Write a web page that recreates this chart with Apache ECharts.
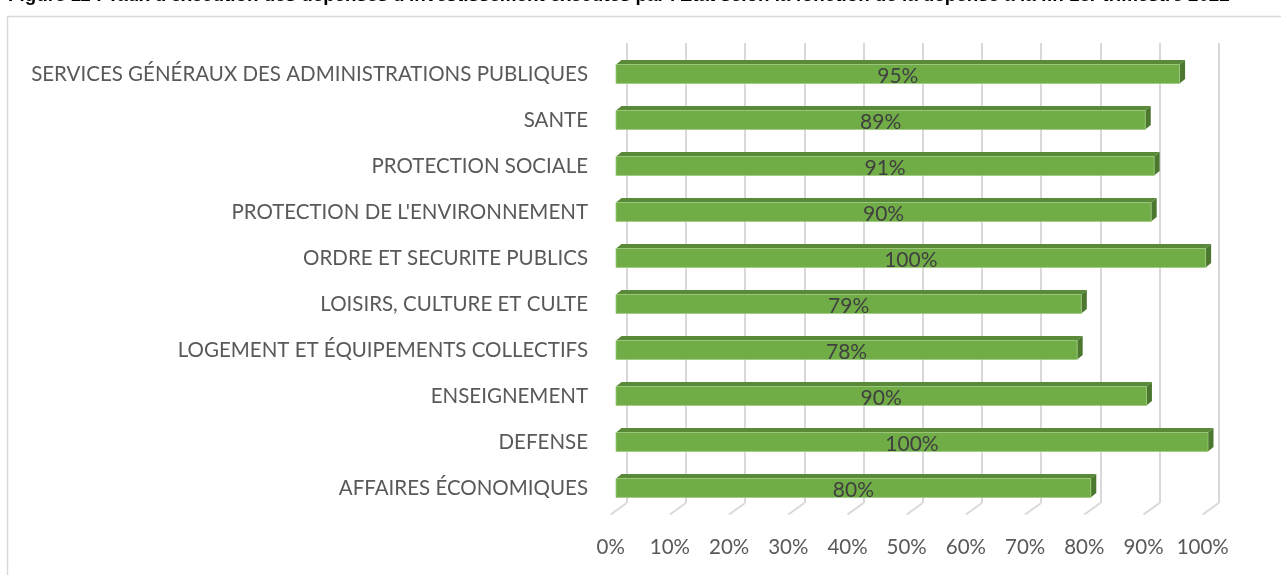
<!DOCTYPE html>
<html>
<head>
<meta charset="utf-8">
<script src="https://cdn.jsdelivr.net/npm/echarts@6/dist/echarts.min.js"></script>
<style>
	html, body { margin: 0; padding: 0; background: #fff; }
	#taux-execution { width: 1281px; height: 575px; }
</style>
</head>
<body>
<div id="taux-execution"></div>
<script>
	// categories from top to bottom
	const categories = [
		'SERVICES GÉNÉRAUX DES ADMINISTRATIONS PUBLIQUES',
		'SANTE',
		'PROTECTION SOCIALE',
		"PROTECTION DE L'ENVIRONNEMENT",
		'ORDRE ET SECURITE PUBLICS',
		'LOISIRS, CULTURE ET CULTE',
		'LOGEMENT ET ÉQUIPEMENTS COLLECTIFS',
		'ENSEIGNEMENT',
		'DEFENSE',
		'AFFAIRES ÉCONOMIQUES'
	];
	// taux d'execution (%)
	const taux = [95.2, 89.4, 90.9, 90.4, 99.6, 78.6, 77.9, 89.6, 100, 80.2];
	const ticks = [0, 10, 20, 30, 40, 50, 60, 70, 80, 90, 100];
	const titre = "Figure 11 : Taux d'exécution des dépenses d'investissement exécutés par l'Etat selon la fonction de la dépense à la fin 1er trimestre 2022";

	const fontFam = 'Lato, "Open Sans", sans-serif';
	const depthX = 5.5, depthY = 4.5;

	let chart = echarts.init(document.getElementById('taux-execution'));
	const option = {
		animation: false,
		graphic: [{
			type: 'rect',
			shape: { x: 7.5, y: 16.5, width: 1300, height: 620 },
			style: { fill: 'none', stroke: '#d9d9d9', lineWidth: 1.5 },
			silent: true
		}, {
			type: 'text',
			left: 8,
			top: -14,
			style: {
				text: titre,
				fill: '#000',
				font: 'bold 18.8px "Liberation Sans", Arial, sans-serif'
			}
		}],
		grid: [
			// back wall
			{ left: 626.7, top: 43, width: 592, height: 460 },
			// bars
			{ left: 616, top: 51, width: 592, height: 460 },
			// floor front edge
			{ left: 610.7, top: 51, width: 592, height: 463.5 }
		],
		xAxis: [{
			gridIndex: 0, type: 'value', min: 0, max: 100, interval: 10,
			axisLine: { show: false }, axisTick: { show: false }, axisLabel: { show: false },
			splitLine: { show: true, lineStyle: { color: '#d9d9d9', width: 2 } }
		}, {
			gridIndex: 1, type: 'value', min: 0, max: 100, interval: 10,
			show: false
		}, {
			gridIndex: 2, type: 'value', min: 0, max: 100, interval: 10,
			axisLine: { show: false }, axisTick: { show: false },
			splitLine: { show: false },
			axisLabel: {
				formatter: '{value}%',
				color: '#595959',
				fontSize: 20.5,
				fontFamily: fontFam,
				margin: 22
			}
		}],
		yAxis: [{
			gridIndex: 0, type: 'value', min: 0, max: 1, show: false
		}, {
			gridIndex: 1, type: 'category', inverse: true, data: categories,
			axisLine: { show: false }, axisTick: { show: false },
			splitLine: { show: false },
			axisLabel: {
				color: '#595959',
				fontSize: 20.5,
				fontFamily: fontFam,
				margin: 28
			}
		}, {
			gridIndex: 2, type: 'value', min: 0, max: 1, show: false
		}],
		series: [{
			// slanted floor lines of the 3D gridlines
			type: 'custom',
			xAxisIndex: 0,
			yAxisIndex: 0,
			silent: true,
			data: ticks.map(function(t) { return [t, 0]; }),
			renderItem: function(params, api) {
				let p = api.coord([api.value(0), 0]);
				return {
					type: 'line',
					shape: { x1: p[0], y1: p[1], x2: p[0] - 16, y2: p[1] + 11.5 },
					style: { stroke: '#d9d9d9', lineWidth: 2 }
				};
			}
		}, {
			// 3D bars
			type: 'custom',
			xAxisIndex: 1,
			yAxisIndex: 1,
			data: taux.map(function(v, i) { return [v, i]; }),
			encode: { x: 0, y: 1 },
			renderItem: function(params, api) {
				let start = api.coord([0, api.value(1)]);
				let end = api.coord([api.value(0), api.value(1)]);
				let h = 19;
				let x0 = start[0], x1 = end[0];
				let yT = start[1] - h / 2, yB = start[1] + h / 2;
				return {
					type: 'group',
					children: [{
						type: 'polygon',
						shape: { points: [[x0, yT], [x0 + depthX, yT - depthY], [x1 + depthX, yT - depthY], [x1, yT]] },
						style: { fill: '#5a8a39' }
					}, {
						type: 'polygon',
						shape: { points: [[x1, yT], [x1 + depthX, yT - depthY], [x1 + depthX, yB - depthY], [x1, yB]] },
						style: { fill: '#4b772e' }
					}, {
						type: 'rect',
						shape: { x: x0, y: yT, width: x1 - x0, height: h },
						style: { fill: '#70ad47', stroke: '#9cc97e', lineWidth: 0.8 }
					}, {
						type: 'text',
						x: (x0 + x1) / 2,
						y: start[1] + 2,
						style: {
							text: Math.round(api.value(0)) + '%',
							fill: '#404040',
							font: '21px ' + fontFam,
							align: 'center',
							verticalAlign: 'middle'
						}
					}]
				};
			}
		}]
	};
	chart.setOption(option);
</script>
</body>
</html>
